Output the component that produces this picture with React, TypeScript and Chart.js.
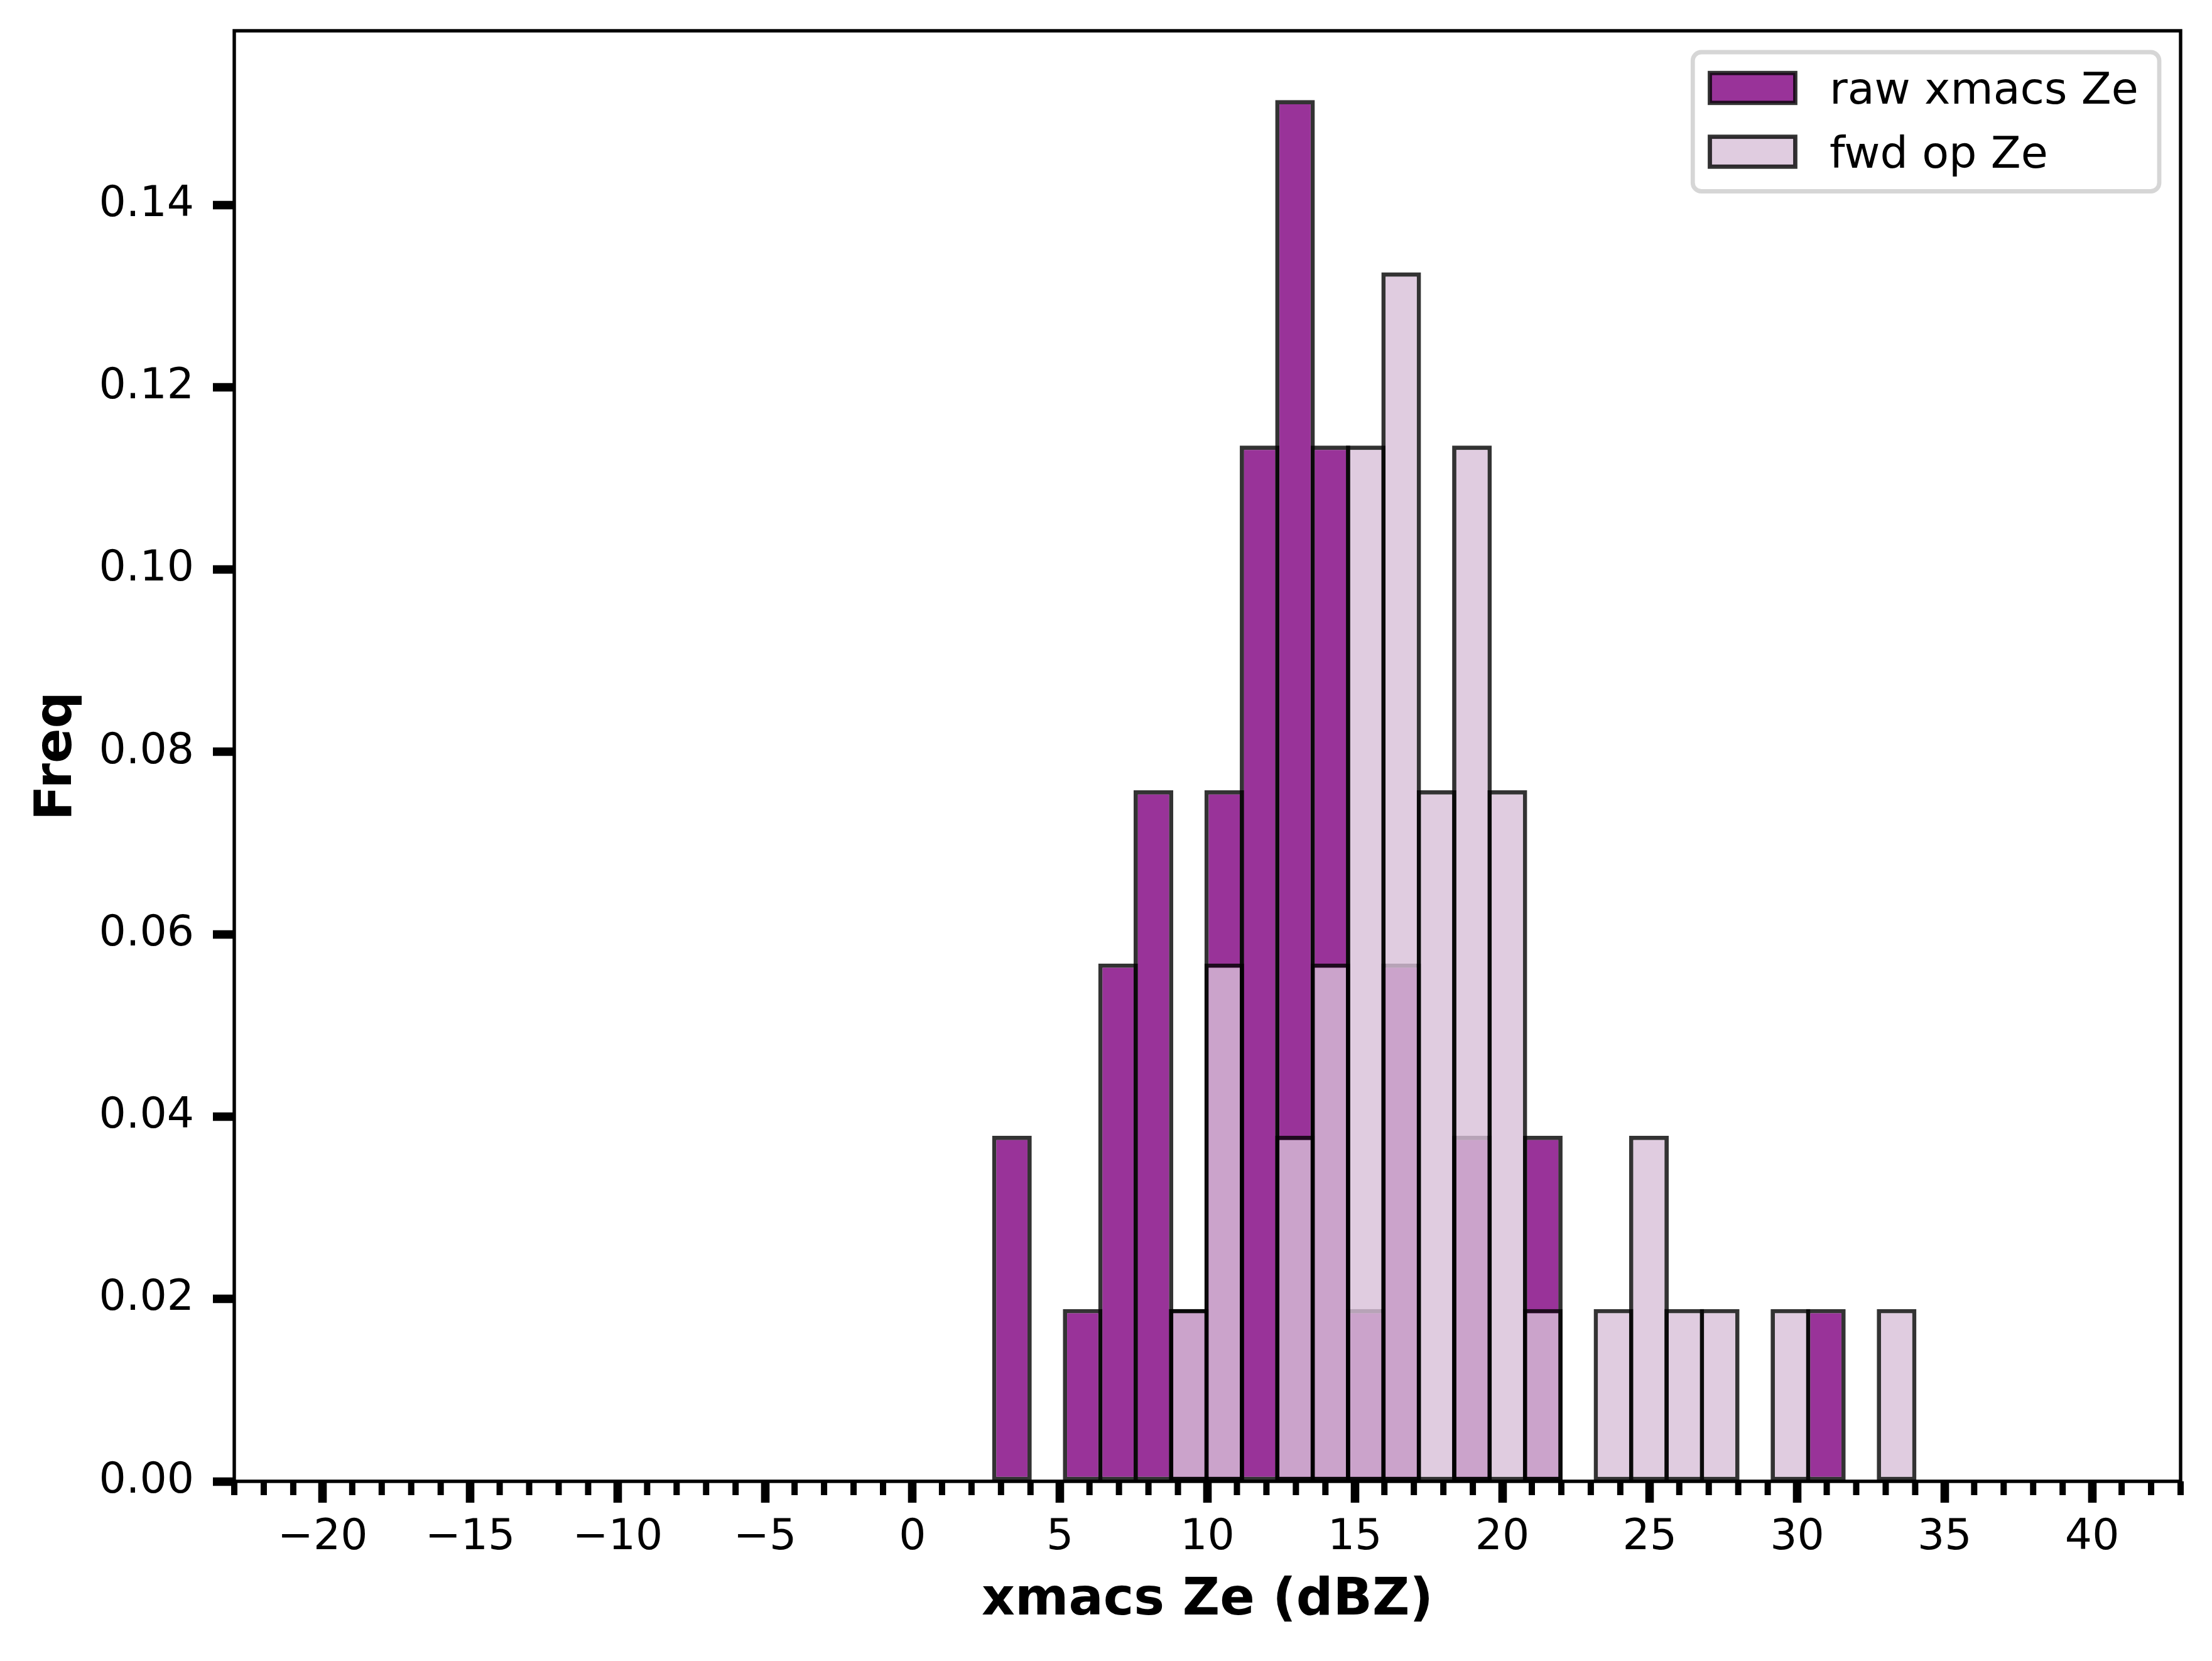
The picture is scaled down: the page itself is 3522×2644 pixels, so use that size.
import React, { useEffect, useRef } from "react";
import { Chart, registerables } from "chart.js";

Chart.register(...registerables);

// ---- data ----
const binCenters = [
  3.37, 4.57, 5.77, 6.97, 8.17, 9.37, 10.57, 11.77, 12.97, 14.17, 15.37, 16.57, 17.77,
  18.97, 20.17, 21.37, 22.57, 23.77, 24.97, 26.17, 27.37, 28.57, 29.77, 30.97, 32.17, 33.37,
];
const rawFreq = [
  0.0379, 0, 0.0189, 0.0568, 0.0758, 0.0189, 0.0758, 0.1136, 0.1515, 0.1136, 0.0189, 0.0568, 0,
  0.0379, 0, 0.0379, 0, 0, 0, 0, 0, 0, 0, 0.0189, 0, 0,
];
const fwdFreq = [
  0, 0, 0, 0, 0, 0.0189, 0.0568, 0, 0.0379, 0.0568, 0.1136, 0.1326, 0.0758,
  0.1136, 0.0758, 0.0189, 0, 0.0189, 0.0379, 0.0189, 0.0189, 0, 0.0189, 0, 0, 0.0189,
];
const seriesLabels = ["raw xmacs Ze", "fwd op Ze"];
const xTickValues = [-20, -15, -10, -5, 0, 5, 10, 15, 20, 25, 30, 35, 40];
const yTickValues = [0, 0.02, 0.04, 0.06, 0.08, 0.1, 0.12, 0.14];
const xMin = -23;
const xMax = 43;
const yMax = 0.1591;
const binWidth = 1.2;
const minorStep = 1;
const xTitle = "xmacs Ze (dBZ)";
const yTitle = "Freq";

// ---- style ----
const FONT = "DejaVu Sans";
const W = 3522;
const H = 2644;
const rawColor = "rgba(128,0,128,0.8)";
const fwdColor = "rgba(216,191,216,0.8)";
const edgeColor = "rgba(0,0,0,0.8)";
const edgeW = 6.8;
const plotPxGuess = 3099;
const binPx = (binWidth * plotPxGuess) / (xMax - xMin);
const barPct = 1 + edgeW / binPx;

const toPoints = (vals: number[]) =>
  binCenters
    .map((c, i) => ({ x: c, y: vals[i] }))
    .filter((p) => p.y > 0);

const fmtX = (v: number) => (v < 0 ? "\u2212" + Math.abs(v) : String(v));

const overlayPlugin = {
  id: "mplOverlay",
  afterDraw(chart: any) {
    const { ctx, chartArea } = chart;
    const xs = chart.scales.x;
    const { left, right, top, bottom } = chartArea;
    ctx.save();
    // minor ticks on x
    ctx.strokeStyle = "#000";
    ctx.lineWidth = 10;
    for (let v = xMin; v <= xMax + 1e-9; v += minorStep) {
      if (Math.abs(v % 5) < 1e-9) continue;
      const px = xs.getPixelForValue(v);
      ctx.beginPath();
      ctx.moveTo(px, bottom);
      ctx.lineTo(px, bottom + 22);
      ctx.stroke();
    }
    // spines
    ctx.lineWidth = 5.4;
    ctx.strokeStyle = "#000";
    ctx.strokeRect(left, top, right - left, bottom - top);

    // legend
    const fs = 68;
    const tfs = 70;
    ctx.font = `${tfs}px "${FONT}"`;
    const textW = Math.max(...seriesLabels.map((t) => ctx.measureText(t).width));
    const pad = 0.4 * fs;
    const handleLen = 2 * fs;
    const handleH = 0.7 * fs;
    const textPad = 0.8 * fs;
    const boxW = pad + handleLen + textPad + textW + pad + 6;
    const boxRight = right - 0.5 * fs;
    const boxLeft = boxRight - boxW;
    const boxTop = top + 0.5 * fs;
    const row1 = boxTop + 57;
    const rowGap = 101.5;
    const boxBottom = row1 + rowGap + 63;
    ctx.beginPath();
    (ctx as any).roundRect(boxLeft, boxTop, boxW, boxBottom - boxTop, 0.2 * fs);
    ctx.fillStyle = "rgba(255,255,255,0.8)";
    ctx.fill();
    ctx.lineWidth = 6.8;
    ctx.strokeStyle = "rgba(204,204,204,0.8)";
    ctx.stroke();
    const fills = [rawColor, fwdColor];
    seriesLabels.forEach((lab, i) => {
      const cy = row1 + i * rowGap;
      const hx = boxLeft + pad;
      ctx.fillStyle = fills[i];
      ctx.fillRect(hx, cy - handleH / 2, handleLen, handleH);
      ctx.lineWidth = edgeW;
      ctx.strokeStyle = edgeColor;
      ctx.strokeRect(hx, cy - handleH / 2, handleLen, handleH);
      ctx.fillStyle = "#000";
      ctx.textBaseline = "alphabetic";
      ctx.textAlign = "left";
      ctx.fillText(lab, hx + handleLen + textPad, cy + 0.36 * tfs);
    });
    ctx.restore();
  },
};

export default function App() {
  const ref = useRef<HTMLCanvasElement | null>(null);
  useEffect(() => {
    document.body.style.margin = "0";
    if (!ref.current) return;
    Chart.defaults.font.family = FONT;
    const common = {
      borderColor: edgeColor,
      borderWidth: edgeW,
      borderSkipped: false,
      grouped: false,
      barPercentage: barPct,
      categoryPercentage: 1,
      inflateAmount: 0,
    };
    const chart = new Chart(ref.current, {
      type: "bar",
      data: {
        datasets: [
          { ...common, label: seriesLabels[0], data: toPoints(rawFreq), backgroundColor: rawColor, order: 2 } as any,
          { ...common, label: seriesLabels[1], data: toPoints(fwdFreq), backgroundColor: fwdColor, order: 1 } as any,
        ],
      },
      options: {
        animation: false,
        responsive: false,
        devicePixelRatio: 1,
        layout: { padding: { left: 0, top: 49, right: 50, bottom: 0 } },
        plugins: { legend: { display: false }, tooltip: { enabled: false } },
        scales: {
          x: {
            type: "linear",
            min: xMin,
            max: xMax,
            offset: false,
            afterBuildTicks: (s: any) => {
              s.ticks = xTickValues.map((v) => ({ value: v }));
            },
            afterFit: (s: any) => {
              s.height = 286;
              s.paddingLeft = 0;
              s.paddingRight = 0;
            },
            ticks: {
              font: { family: FONT, size: 68 },
              color: "#000",
              padding: 16,
              maxRotation: 0,
              minRotation: 0,
              autoSkip: false,
              callback: (v: any) => fmtX(Number(v)),
            },
            grid: { offset: false, drawOnChartArea: false, tickLength: 34, tickWidth: 13.6, tickColor: "#000" },
            border: { display: false },
            title: {
              display: true,
              text: xTitle,
              color: "#000",
              font: { family: FONT, size: 82, weight: "bold" },
              padding: { top: 0, bottom: 46 },
            },
          },
          y: {
            type: "linear",
            min: 0,
            max: yMax,
            afterBuildTicks: (s: any) => {
              s.ticks = yTickValues.map((v) => ({ value: v }));
            },
            afterFit: (s: any) => {
              s.width = 373;
              s.paddingTop = 0;
              s.paddingBottom = 0;
            },
            ticks: {
              font: { family: FONT, size: 68 },
              color: "#000",
              padding: 30,
              autoSkip: false,
              callback: (v: any) => Number(v).toFixed(2),
            },
            grid: { drawOnChartArea: false, tickLength: 34, tickWidth: 13.6, tickColor: "#000" },
            border: { display: false },
            title: {
              display: true,
              text: yTitle,
              color: "#000",
              font: { family: FONT, size: 82, weight: "bold" },
              padding: { top: 43, bottom: 0 },
            },
          },
        },
      } as any,
      plugins: [overlayPlugin],
    });
    return () => chart.destroy();
  }, []);
  return (
    <div style={{ width: W, height: H, background: "#fff" }}>
      <canvas ref={ref} width={W} height={H} style={{ display: "block", width: W, height: H }} />
    </div>
  );
}
